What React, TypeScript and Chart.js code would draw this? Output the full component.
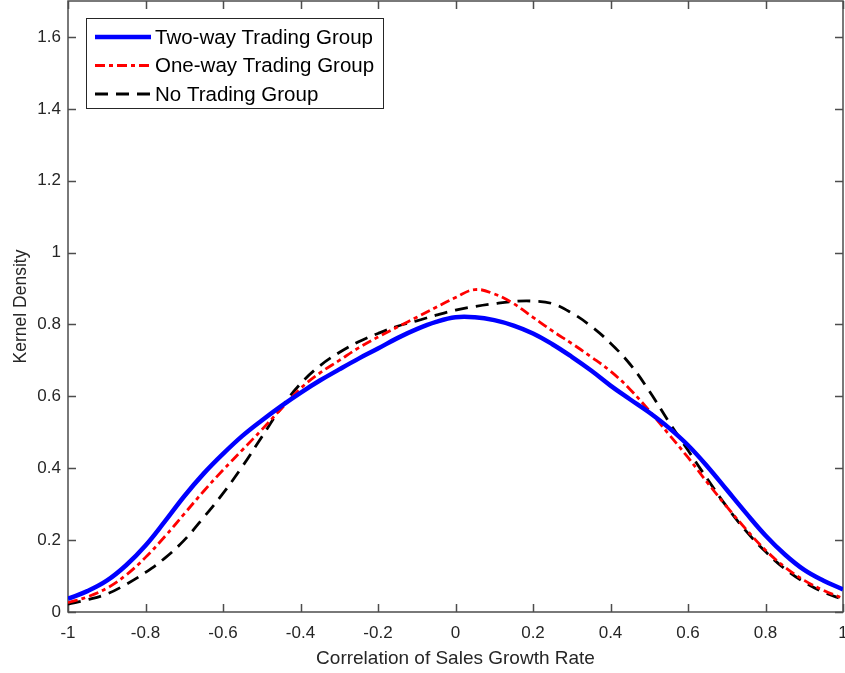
import React, { useEffect, useRef } from "react";
import { Chart, registerables } from "chart.js";

Chart.register(...registerables);

const correlation = [
  -1, -0.95, -0.9, -0.85, -0.8, -0.75, -0.7, -0.65, -0.6, -0.55, -0.5, -0.45, -0.4, -0.35,
  -0.3, -0.25, -0.2, -0.15, -0.1, -0.05, 0, 0.05, 0.1, 0.15, 0.2, 0.25, 0.3, 0.35, 0.4,
  0.45, 0.5, 0.55, 0.6, 0.65, 0.7, 0.75, 0.8, 0.85, 0.9, 0.95, 1,
];

const twoWay = [
  0.037, 0.058, 0.087, 0.13, 0.185, 0.252, 0.322, 0.385, 0.44, 0.49, 0.533, 0.573, 0.61, 0.644,
  0.675, 0.705, 0.733, 0.762, 0.787, 0.807, 0.82, 0.82, 0.812, 0.797, 0.775, 0.745, 0.71,
  0.672, 0.63, 0.592, 0.555, 0.513, 0.464, 0.405, 0.34, 0.275, 0.213, 0.16, 0.117, 0.087, 0.063,
];

const oneWay = [
  0.026, 0.042, 0.066, 0.103, 0.152, 0.21, 0.273, 0.336, 0.395, 0.451, 0.507, 0.565, 0.622,
  0.665, 0.7, 0.735, 0.765, 0.793, 0.82, 0.848, 0.875, 0.897, 0.885, 0.858, 0.82, 0.782, 0.747,
  0.71, 0.67, 0.62, 0.56, 0.495, 0.43, 0.36, 0.293, 0.23, 0.172, 0.125, 0.088, 0.06, 0.038,
];

const noTrading = [
  0.022, 0.034, 0.05, 0.077, 0.11, 0.15, 0.2, 0.263, 0.33, 0.405, 0.487, 0.568, 0.635, 0.685,
  0.722, 0.752, 0.775, 0.795, 0.81, 0.826, 0.84, 0.85, 0.858, 0.864, 0.865, 0.858, 0.832, 0.795,
  0.748, 0.69, 0.615, 0.53, 0.45, 0.37, 0.293, 0.225, 0.168, 0.12, 0.083, 0.055, 0.035,
];

const seriesNames = ["Two-way Trading Group", "One-way Trading Group", "No Trading Group"];

const xTickValues = [-1, -0.8, -0.6, -0.4, -0.2, 0, 0.2, 0.4, 0.6, 0.8, 1];
const xTickLabels = ["-1", "-0.8", "-0.6", "-0.4", "-0.2", "0", "0.2", "0.4", "0.6", "0.8", "1"];
const yTickValues = [0, 0.2, 0.4, 0.6, 0.8, 1, 1.2, 1.4, 1.6];
const yTickLabels = ["0", "0.2", "0.4", "0.6", "0.8", "1", "1.2", "1.4", "1.6"];

const xTitle = "Correlation of Sales Growth Rate";
const yTitle = "Kernel Density";

const FONT = "'Liberation Sans', Arial, Helvetica, sans-serif";
const AXIS_COLOR = "#4d4d4d";
const TEXT_COLOR = "#262626";

const framePlugin = {
  id: "matlabFrame",
  beforeDatasetsDraw(chart: any) {
    const { ctx, chartArea } = chart;
    const { left, right, top, bottom } = chartArea;
    const xs = chart.scales.x;
    const ys = chart.scales.y;
    const tl = 8;
    ctx.save();
    ctx.strokeStyle = AXIS_COLOR;
    ctx.lineWidth = 1.5;
    ctx.beginPath();
    xTickValues.forEach((v) => {
      const px = Math.round(xs.getPixelForValue(v)) + 0.5;
      ctx.moveTo(px, bottom);
      ctx.lineTo(px, bottom - tl);
      ctx.moveTo(px, top);
      ctx.lineTo(px, top + tl);
    });
    yTickValues.forEach((v) => {
      const py = Math.round(ys.getPixelForValue(v)) + 0.5;
      ctx.moveTo(left, py);
      ctx.lineTo(left + tl, py);
      ctx.moveTo(right, py);
      ctx.lineTo(right - tl, py);
    });
    ctx.stroke();
    ctx.strokeRect(left, top, right - left, bottom - top);
    ctx.restore();
  },
};

const legendPlugin = {
  id: "insideLegend",
  afterDraw(chart: any) {
    const { ctx } = chart;
    const bx = 86;
    const by = 18;
    const bw = 297;
    const bh = 90;
    ctx.save();
    ctx.fillStyle = "#ffffff";
    ctx.fillRect(bx, by, bw, bh);
    ctx.strokeStyle = TEXT_COLOR;
    ctx.lineWidth = 1;
    ctx.strokeRect(bx + 0.5, by + 0.5, bw, bh);
    const rows = [37, 65.5, 94];
    chart.data.datasets.forEach((ds: any, i: number) => {
      const y = rows[i];
      ctx.beginPath();
      ctx.strokeStyle = ds.borderColor;
      ctx.lineWidth = ds.borderWidth;
      ctx.setLineDash(ds.borderDash || []);
      ctx.moveTo(95, y);
      ctx.lineTo(151, y);
      ctx.stroke();
      ctx.setLineDash([]);
      ctx.fillStyle = "#000000";
      ctx.font = `20.5px ${FONT}`;
      ctx.textBaseline = "middle";
      ctx.textAlign = "left";
      ctx.fillText(ds.label, 155, y + 1);
    });
    ctx.restore();
  },
};

function toPoints(values: number[]) {
  return correlation.map((c, i) => ({ x: c, y: values[i] }));
}

function zeroPadding(scale: any) {
  scale.paddingTop = 0;
  scale.paddingBottom = 0;
  scale.paddingLeft = 0;
  scale.paddingRight = 0;
}

export default function App() {
  const canvasRef = useRef<HTMLCanvasElement | null>(null);

  useEffect(() => {
    if (!canvasRef.current) return;
    const chart = new Chart(canvasRef.current, {
      type: "line",
      data: {
        datasets: [
          {
            label: seriesNames[0],
            data: toPoints(twoWay),
            borderColor: "#0000ff",
            borderWidth: 4.5,
            pointRadius: 0,
            tension: 0.4,
            fill: false,
          },
          {
            label: seriesNames[1],
            data: toPoints(oneWay),
            borderColor: "#ff0000",
            borderWidth: 2.8,
            borderDash: [10, 4, 4, 4],
            pointRadius: 0,
            tension: 0.4,
            fill: false,
          },
          {
            label: seriesNames[2],
            data: toPoints(noTrading),
            borderColor: "#000000",
            borderWidth: 2.8,
            borderDash: [13, 8],
            pointRadius: 0,
            tension: 0.4,
            fill: false,
          },
        ],
      },
      options: {
        animation: false,
        responsive: false,
        devicePixelRatio: 1,
        layout: { autoPadding: false, padding: { top: 1, right: 2, left: 0, bottom: 0 } },
        plugins: {
          legend: { display: false },
          tooltip: { enabled: false },
        },
        scales: {
          x: {
            type: "linear",
            min: -1,
            max: 1,
            grid: { display: false, drawTicks: false },
            border: { display: false },
            afterBuildTicks: (scale: any) => {
              scale.ticks = xTickValues.map((v) => ({ value: v }));
            },
            afterFit: (scale: any) => {
              scale.height = 61;
              zeroPadding(scale);
            },
            ticks: {
              autoSkip: false,
              maxRotation: 0,
              padding: 11,
              color: TEXT_COLOR,
              font: { family: FONT, size: 17 },
              callback: (_v: any, i: number) => xTickLabels[i],
            },
            title: {
              display: true,
              text: xTitle,
              color: TEXT_COLOR,
              font: { family: FONT, size: 19 },
              padding: { top: 0, bottom: 3 },
            },
          },
          y: {
            type: "linear",
            min: 0,
            max: 1.7,
            grid: { display: false, drawTicks: false },
            border: { display: false },
            afterBuildTicks: (scale: any) => {
              scale.ticks = yTickValues.map((v) => ({ value: v }));
            },
            afterFit: (scale: any) => {
              scale.width = 68;
              zeroPadding(scale);
            },
            ticks: {
              autoSkip: false,
              padding: 7,
              color: TEXT_COLOR,
              font: { family: FONT, size: 17 },
              callback: (_v: any, i: number) => yTickLabels[i],
            },
            title: {
              display: true,
              text: yTitle,
              color: TEXT_COLOR,
              font: { family: FONT, size: 17.5 },
              padding: { top: 11, bottom: 0 },
            },
          },
        },
      },
      plugins: [framePlugin, legendPlugin],
    } as any);
    return () => chart.destroy();
  }, []);

  return (
    <div style={{ position: "absolute", left: 0, top: 0, width: 845, height: 673, background: "#fff" }}>
      <canvas ref={canvasRef} width={845} height={673} />
    </div>
  );
}
